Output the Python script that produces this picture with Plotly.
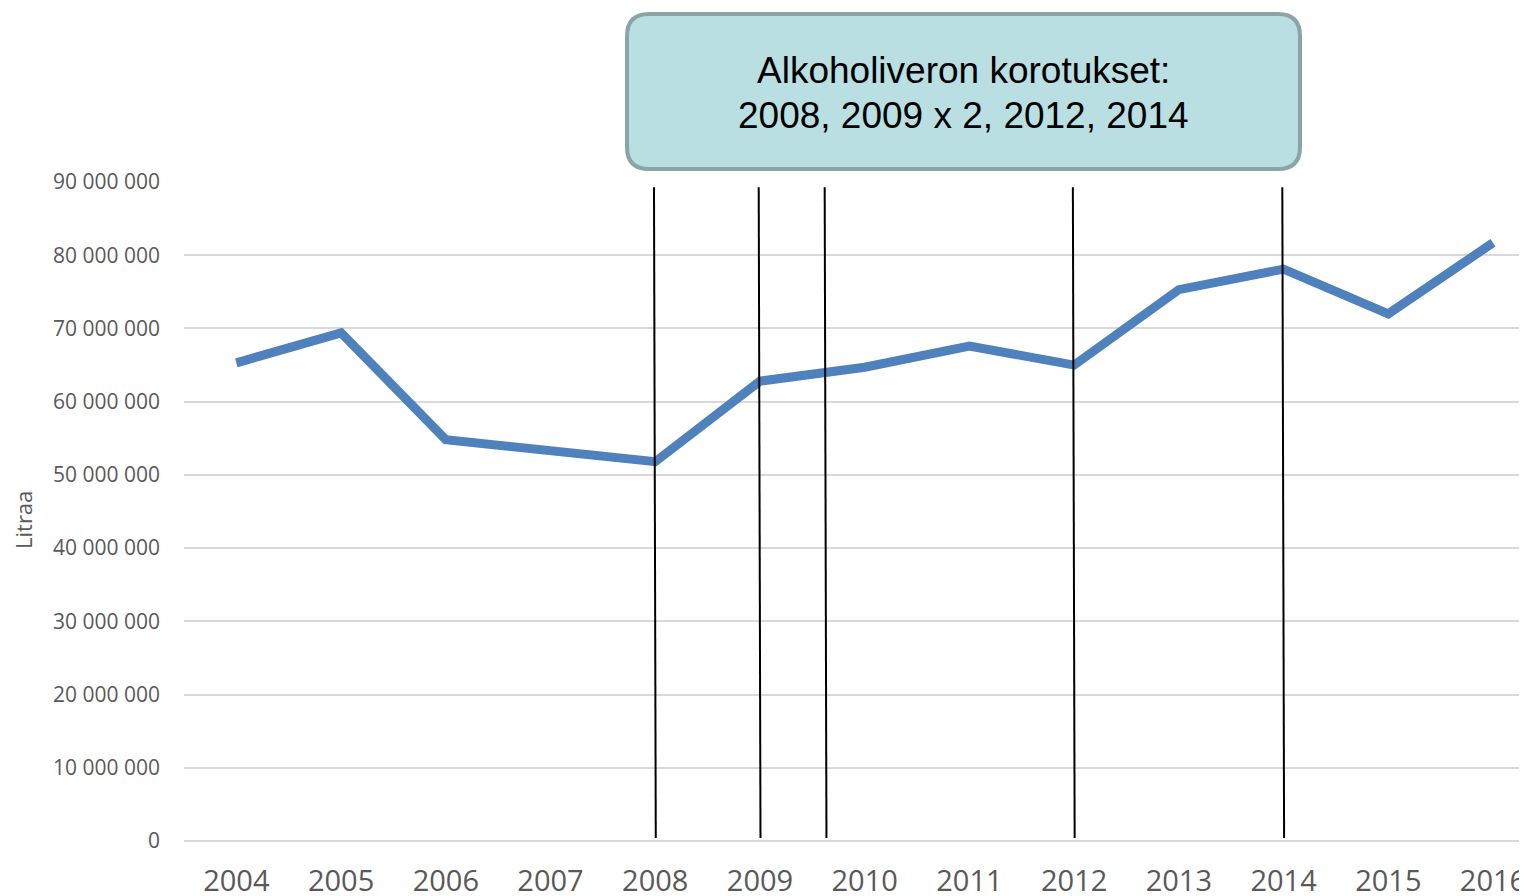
import plotly.graph_objects as go

years = [2004, 2005, 2006, 2007, 2008, 2009, 2010, 2011, 2012, 2013, 2014, 2015, 2016]
litres = [65.3e6, 69.4e6, 54.8e6, 53.3e6, 51.8e6, 62.8e6, 64.7e6, 67.6e6, 65.0e6, 75.3e6, 78.1e6, 72.0e6, 81.7e6]
tax_increase_x = [2008, 2009, 2009.63, 2012, 2014]
y_ticks = [0, 10e6, 20e6, 30e6, 40e6, 50e6, 60e6, 70e6, 80e6, 90e6]
y_tick_text = ["0", "10 000 000", "20 000 000", "30 000 000", "40 000 000",
               "50 000 000", "60 000 000", "70 000 000", "80 000 000", "90 000 000"]
box_line1 = "Alkoholiveron korotukset:"
box_line2 = "2008, 2009 x 2, 2012, 2014"

W, H = 1527, 896
OFF = 8  # page body margin
L, R, T, B = 184 - OFF, 0, 182 - OFF, H - (841 - OFF)
pw, ph = W - L - R, H - T - B

fig = go.Figure()
fig.add_trace(go.Scatter(x=years, y=litres, mode="lines",
                         line=dict(color="#4f81bd", width=9), hoverinfo="x+y"))

shapes = []
for xv in tax_increase_x:
    shapes.append(dict(type="line", xref="x", yref="y", x0=xv - 0.012, x1=xv + 0.005,
                       y0=89.3e6, y1=0.4e6, line=dict(color="black", width=2), layer="above"))

# screen px -> paper coords
def px2paper_x(p):
    return (p - OFF - L) / pw

def py2paper_y(p):
    return (H - B - (p - OFF)) / ph

x0, x1 = px2paper_x(627), px2paper_x(1300)
y0, y1 = py2paper_y(169), py2paper_y(14)
rx, ry = 22 / pw, 22 / ph
path = (f"M {x0+rx},{y1} L {x1-rx},{y1} Q {x1},{y1} {x1},{y1-ry} "
        f"L {x1},{y0+ry} Q {x1},{y0} {x1-rx},{y0} L {x0+rx},{y0} "
        f"Q {x0},{y0} {x0},{y0+ry} L {x0},{y1-ry} Q {x0},{y1} {x0+rx},{y1} Z")
shapes.append(dict(type="path", xref="paper", yref="paper", path=path,
                   fillcolor="#b9dfe2", line=dict(color="#8ba5a7", width=4), layer="above"))

box_font = dict(family="Liberation Sans", size=37, color="black")
fig.update_layout(
    width=W, height=H,
    margin=dict(l=L, r=R, t=T, b=B),
    paper_bgcolor="white", plot_bgcolor="white",
    showlegend=False,
    shapes=shapes,
    font=dict(family="Open Sans", color="#595959"),
    annotations=[
        dict(text=box_line1, xref="paper", yref="paper",
             x=px2paper_x(963), y=py2paper_y(71), xanchor="center", yanchor="middle",
             showarrow=False, font=box_font),
        dict(text=box_line2, xref="paper", yref="paper",
             x=px2paper_x(963), y=py2paper_y(116), xanchor="center", yanchor="middle",
             showarrow=False, font=box_font),
        dict(text="Litraa", xref="paper", yref="paper", x=px2paper_x(23), y=py2paper_y(520),
             xanchor="center", yanchor="middle", textangle=-90, showarrow=False,
             font=dict(family="Open Sans", size=22, color="#595959")),
    ],
)
fig.update_xaxes(range=[2003.5, 2016 + (W + OFF - 1493) / 104.75], tickvals=years,
                 ticktext=[str(y) for y in years], showgrid=False, zeroline=False,
                 showline=False, ticks="", tickfont=dict(size=29, color="#595959"),
                 ticklabelstandoff=20, fixedrange=True)
fig.update_yaxes(range=[0, 90e6], tickvals=y_ticks, ticktext=y_tick_text,
                 showgrid=True, gridcolor="#d9d9d9", gridwidth=1.5, zeroline=True,
                 zerolinecolor="#d9d9d9", zerolinewidth=1.5, showline=False, ticks="",
                 tickfont=dict(size=21, color="#595959"), ticklabelstandoff=23,
                 fixedrange=True)

fig.write_html("out.html")
